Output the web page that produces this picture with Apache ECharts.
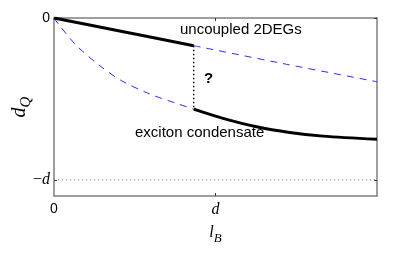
<!DOCTYPE html>
<html>
<head>
<meta charset="utf-8">
<script src="https://cdn.jsdelivr.net/npm/echarts@6/dist/echarts.min.js"></script>
<style>html,body{margin:0;padding:0;background:#fff}#c{width:415px;height:254px}</style>
</head>
<body>
<div id="c"></div>
<script>
// Data (x in units of d, dQ in units of d)
var xTransition = 0.865;
var upperSolidX = [0, 0.43, 0.865];
var upperSolidY = [0, -0.085, -0.171];
var upperDashX = [0.865, 1.44, 2.0];
var upperDashY = [-0.171, -0.286, -0.394];
var lowerDashX = [0, 0.027, 0.14, 0.284, 0.419, 0.594, 0.759, 0.865];
var lowerDashY = [0, -0.037, -0.171, -0.295, -0.388, -0.470, -0.528, -0.563];
var lowerSolidX = [0.865, 1.047, 1.254, 1.459, 1.665, 2.0];
var lowerSolidY = [-0.563, -0.620, -0.672, -0.707, -0.730, -0.750];
var refLineX = [0, 2];
var refLineY = [-1, -1];
var gapY = [-0.171, -0.563];
var xTicks = [0, 1];
var xTickLabels = ['0', 'd'];
var yTicks = [-1, 0];
var yTickLabels = ['−d', '0'];

function zip(a, b) { return a.map(function (v, i) { return [v, b[i]]; }); }

var chart = echarts.init(document.getElementById('c'), null, {renderer: 'canvas'});
var axisCol = '#7f7f7f';
var serifFam = '"Liberation Serif","DejaVu Serif",serif';
var sansFam = '"Liberation Sans",Arial,sans-serif';

function xLab(v) {
  var i = xTicks.indexOf(v);
  if (i < 0) return '';
  return i === 0 ? '{n|0}' : '{i|d}';
}
function yLab(v) {
  if (Math.abs(v) < 1e-9) return '{n|0}';
  if (Math.abs(v + 1) < 1e-9) return '{m|−}{i|d}';
  return '';
}
var richLab = {
  n: {fontFamily: sansFam, fontSize: 14, color: '#000'},
  i: {fontFamily: serifFam, fontStyle: 'italic', fontSize: 16, color: '#000'},
  m: {fontFamily: serifFam, fontSize: 16, color: '#000'}
};

chart.setOption({
  animation: false,
  grid: {left: 54, top: 18, right: 38, bottom: 58, containLabel: false, outerBoundsMode: 'none'},
  xAxis: [{
    type: 'value', min: 0, max: 2, interval: 1,
    axisLine: {show: true, onZero: false, lineStyle: {color: axisCol, width: 1.5}},
    axisTick: {show: true, inside: true, length: 3, customValues: [1], lineStyle: {color: '#333'}},
    axisLabel: {customValues: xTicks, formatter: xLab, rich: richLab, margin: 6},
    splitLine: {show: false},
    name: '{i|l}{s|B}', nameLocation: 'middle', nameGap: 24, nameMoveOverlap: false,
    nameTextStyle: {rich: {
      i: {fontFamily: serifFam, fontStyle: 'italic', fontSize: 16, color: '#000'},
      s: {fontFamily: serifFam, fontStyle: 'italic', fontSize: 13, color: '#000', padding: [12, 0, 0, 0]}
    }}
  }, {
    type: 'value', min: 0, max: 2, interval: 1, position: 'top',
    axisLine: {show: true, onZero: false, lineStyle: {color: axisCol, width: 1.5}},
    axisTick: {show: true, inside: true, length: 3, customValues: [1], lineStyle: {color: '#333'}},
    axisLabel: {show: false}, splitLine: {show: false}
  }],
  yAxis: [{
    type: 'value', min: -1.1, max: 0,
    axisLine: {show: true, onZero: false, lineStyle: {color: axisCol, width: 1.5}},
    axisTick: {show: true, inside: true, length: 3, customValues: yTicks, lineStyle: {color: '#333'}},
    axisLabel: {customValues: yTicks, formatter: yLab, rich: richLab, margin: 4},
    splitLine: {show: false},
    name: '{i|d}{s|Q}', nameLocation: 'middle', nameGap: 20, nameRotate: 90, nameMoveOverlap: false,
    nameTextStyle: {rich: {
      i: {fontFamily: serifFam, fontStyle: 'italic', fontSize: 20, color: '#000'},
      s: {fontFamily: serifFam, fontStyle: 'italic', fontSize: 15, color: '#000', padding: [14, 0, 0, 0]}
    }}
  }, {
    type: 'value', min: -1.1, max: 0, position: 'right',
    axisLine: {show: true, onZero: false, lineStyle: {color: axisCol, width: 1.5}},
    axisTick: {show: true, inside: true, length: 3, customValues: yTicks, lineStyle: {color: '#333'}},
    axisLabel: {show: false}, splitLine: {show: false}
  }],
  series: [
    {type: 'line', data: zip(refLineX, refLineY), symbol: 'none', silent: true,
     lineStyle: {color: '#777', width: 1, type: [1, 3]}},
    {type: 'line', data: zip([xTransition, xTransition], gapY), symbol: 'none', silent: true,
     lineStyle: {color: '#000', width: 1.5, type: [1.5, 2.5]}},
    {type: 'line', data: zip(lowerDashX, lowerDashY), symbol: 'none', smooth: 0.3,
     lineStyle: {color: '#2b2bff', width: 1, type: [7, 6]}},
    {type: 'line', data: zip(upperDashX, upperDashY), symbol: 'none', smooth: 0.3,
     lineStyle: {color: '#2b2bff', width: 1, type: [7, 6]}},
    {type: 'line', data: zip(upperSolidX, upperSolidY), symbol: 'none', smooth: 0.3,
     lineStyle: {color: '#000', width: 3}},
    {type: 'line', data: zip(lowerSolidX, lowerSolidY), symbol: 'none', smooth: 0.3,
     lineStyle: {color: '#000', width: 3}}
  ],
  graphic: [
    {type: 'text', left: 180, top: 22, style: {text: 'uncoupled 2DEGs', font: '15px "Liberation Sans", Arial, sans-serif', fill: '#000'}},
    {type: 'text', left: 135, top: 125, style: {text: 'exciton condensate', font: '15px "Liberation Sans", Arial, sans-serif', fill: '#000'}},
    {type: 'text', left: 204, top: 71, style: {text: '?', font: 'bold 15px "Liberation Sans", Arial, sans-serif', fill: '#000'}}
  ]
});
</script>
</body>
</html>
